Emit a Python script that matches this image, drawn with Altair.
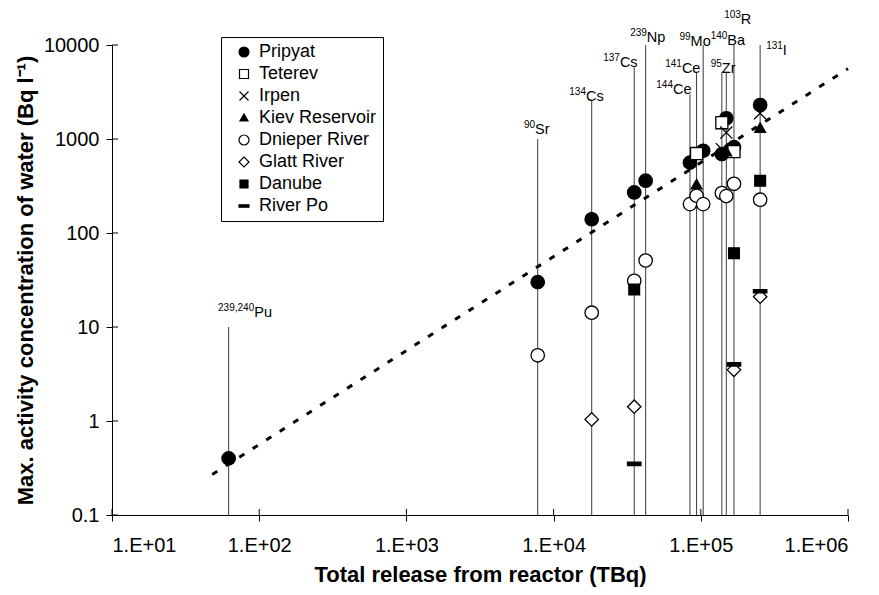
import altair as alt
import pandas as pd

# ---------------- data ----------------
nuclides = ["239,240Pu", "90Sr", "134Cs", "137Cs", "239Np", "144Ce", "141Ce",
            "99Mo", "95Zr", "103Ru", "140Ba", "131I"]
release_tbq = [62, 7800, 18150, 35300, 42200, 84400, 93600,
               103800, 139000, 149000, 168000, 253000]
line_top = [10, 1000, 2600, 5800, 10000, 3000, 5200,
            10000, 5200, 5200, 10000, 10000]

label_sup = ["239,240", "90", "134", "137", "239", "144", "141", "99", "95", "103", "140", "131"]
label_el = ["Pu", "Sr", "Cs", "Cs", "Np", "Ce", "Ce", "Mo", "Zr", "R", "Ba", "I"]
label_x = [92.5, 7480, 16600, 28200, 43000, 64700, 74400, 85200, 139000, 187000, 151500, 361000]
label_y = [12.9, 1122, 2555, 5875, 10840, 2990, 5070, 9750, 5070, 16700, 10000, 7830]

series_names = ["Pripyat", "Teterev", "Irpen", "Kiev Reservoir",
                "Dnieper River", "Glatt River", "Danube", "River Po"]

pripyat = {"239,240Pu": 0.4, "90Sr": 30, "134Cs": 140, "137Cs": 270, "239Np": 360,
           "144Ce": 560, "99Mo": 750, "95Zr": 690, "103Ru": 1660, "140Ba": 820, "131I": 2300}
teterev = {"141Ce": 700, "95Zr": 1490, "140Ba": 735}
irpen = {"95Zr": 780, "103Ru": 1170, "131I": 1880}
kiev = {"141Ce": 326, "103Ru": 730, "131I": 1300}
dnieper = {"90Sr": 5, "134Cs": 14.2, "137Cs": 31, "239Np": 51, "144Ce": 203, "141Ce": 249,
           "99Mo": 203, "95Zr": 266, "103Ru": 247, "140Ba": 334, "131I": 226}
glatt = {"134Cs": 1.04, "137Cs": 1.42, "140Ba": 3.5, "131I": 21}
danube = {"137Cs": 25, "140Ba": 61, "131I": 360}
river_po = {"137Cs": 0.35, "140Ba": 4.0, "131I": 24}

trend_x = [48, 1000000]
trend_y = [0.27, 5600]

x_ticks = [10, 100, 1000, 10000, 100000, 1000000]
y_ticks = [0.1, 1, 10, 100, 1000, 10000]

# ---------------- tables ----------------
rel = dict(zip(nuclides, release_tbq))
series_values = [pripyat, teterev, irpen, kiev, dnieper, glatt, danube, river_po]
rows = []
for name, vals in zip(series_names, series_values):
    for nuc, v in vals.items():
        rows.append({"series": name, "nuclide": nuc, "x": rel[nuc], "y": v})
points_df = pd.DataFrame(rows)

lines_df = pd.DataFrame({"nuclide": nuclides, "x": release_tbq, "y": line_top})
labels_df = pd.DataFrame({"sup": label_sup, "el": label_el, "x": label_x, "y": label_y})
trend_df = pd.DataFrame({"x": trend_x, "y": trend_y})
xt_df = pd.DataFrame({"x": x_ticks})
yt_df = pd.DataFrame({"y": y_ticks})

W, H = 736, 470
FONT = "Liberation Sans"

x_scale = alt.Scale(type="log", domain=[10, 1000000], nice=False)
y_scale = alt.Scale(type="log", domain=[0.1, 10000], nice=False)

x_axis = alt.Axis(values=x_ticks, grid=False, tickSize=6, labelPadding=14,
                  labelExpr="'1.E+' + (round(log(datum.value)/LN10) < 10 ? '0' : '') + format(round(log(datum.value)/LN10), 'd')",
                  title="Total release from reactor (TBq)", titlePadding=9)
y_axis = alt.Axis(values=y_ticks, grid=False, tickSize=6, labelPadding=7, format="~g",
                  title="Max. activity concentration of water (Bq l\u207b\u00b9)", titlePadding=6)

X = alt.X("x:Q", scale=x_scale, axis=x_axis)
Y = alt.Y("y:Q", scale=y_scale, axis=y_axis)

drop_lines = alt.Chart(lines_df).mark_rule(color="#3a3a3a", strokeWidth=1).encode(
    x=X, y=Y, y2=alt.datum(0.1))

trend = alt.Chart(trend_df).mark_line(color="black", strokeWidth=3, strokeDash=[6, 10],
                                      strokeCap="butt").encode(x=X, y=Y)

x_inner = alt.Chart(xt_df).mark_rule(color="black", strokeWidth=1).encode(
    x=X, y=alt.value(H), y2=alt.value(H - 6))
y_inner = alt.Chart(yt_df).mark_rule(color="black", strokeWidth=1).encode(
    y=Y, x=alt.value(0), x2=alt.value(6))

sup_text = alt.Chart(labels_df).mark_text(align="right", baseline="alphabetic", dy=-6,
                                          fontSize=10, font=FONT, color="black").encode(
    x=X, y=Y, text="sup:N")
el_text = alt.Chart(labels_df).mark_text(align="left", baseline="alphabetic",
                                         fontSize=14.5, font=FONT, color="black").encode(
    x=X, y=Y, text="el:N")

shape_paths = [
    "circle",
    "M-0.9,-0.9L0.9,-0.9L0.9,0.9L-0.9,0.9Z",
    "M-0.9,-0.9L0.9,0.9M-0.9,0.9L0.9,-0.9",
    "M0,-0.8L0.8,0.6L-0.8,0.6Z",
    "circle",
    "diamond",
    "M-0.8,-0.8L0.8,-0.8L0.8,0.8L-0.8,0.8Z",
    "M-1,-0.25L1,-0.25L1,0.25L-1,0.25Z",
]
fill_colors = ["black", "white", "white", "black", "white", "white", "black", "black"]
stroke_colors = ["black"] * len(series_names)

leg = alt.Legend(title=None, orient="none", legendX=109, legendY=-8,
                 strokeColor="black", fillColor="white", padding=6,
                 symbolOffset=8, labelOffset=6, rowPadding=4,
                 labelFontSize=18, labelFont=FONT, labelColor="black",
                 symbolSize=100, symbolStrokeWidth=1.2)

pts = alt.Chart(points_df).mark_point(opacity=1, size=180, strokeWidth=1.3).encode(
    x=X, y=Y,
    shape=alt.Shape("series:N", scale=alt.Scale(domain=series_names, range=shape_paths), legend=leg),
    fill=alt.Fill("series:N", scale=alt.Scale(domain=series_names, range=fill_colors), legend=leg),
    stroke=alt.Stroke("series:N", scale=alt.Scale(domain=series_names, range=stroke_colors), legend=leg),
)

chart = alt.layer(drop_lines, trend, x_inner, y_inner, sup_text, el_text, pts).properties(
    width=W, height=H,
    autosize=alt.AutoSizeParams(type="none"),
    padding={"left": 112, "top": 45, "right": 31, "bottom": 80},
).configure(background="white").configure_view(stroke=None).configure_axis(
    domainColor="black", tickColor="black", labelColor="black", titleColor="black",
    labelFont=FONT, titleFont=FONT, labelFontSize=20, titleFontSize=22,
    titleFontWeight="bold", domainWidth=1, tickWidth=1,
)

chart.save("out.html", embed_options={"renderer": "svg", "actions": False})
